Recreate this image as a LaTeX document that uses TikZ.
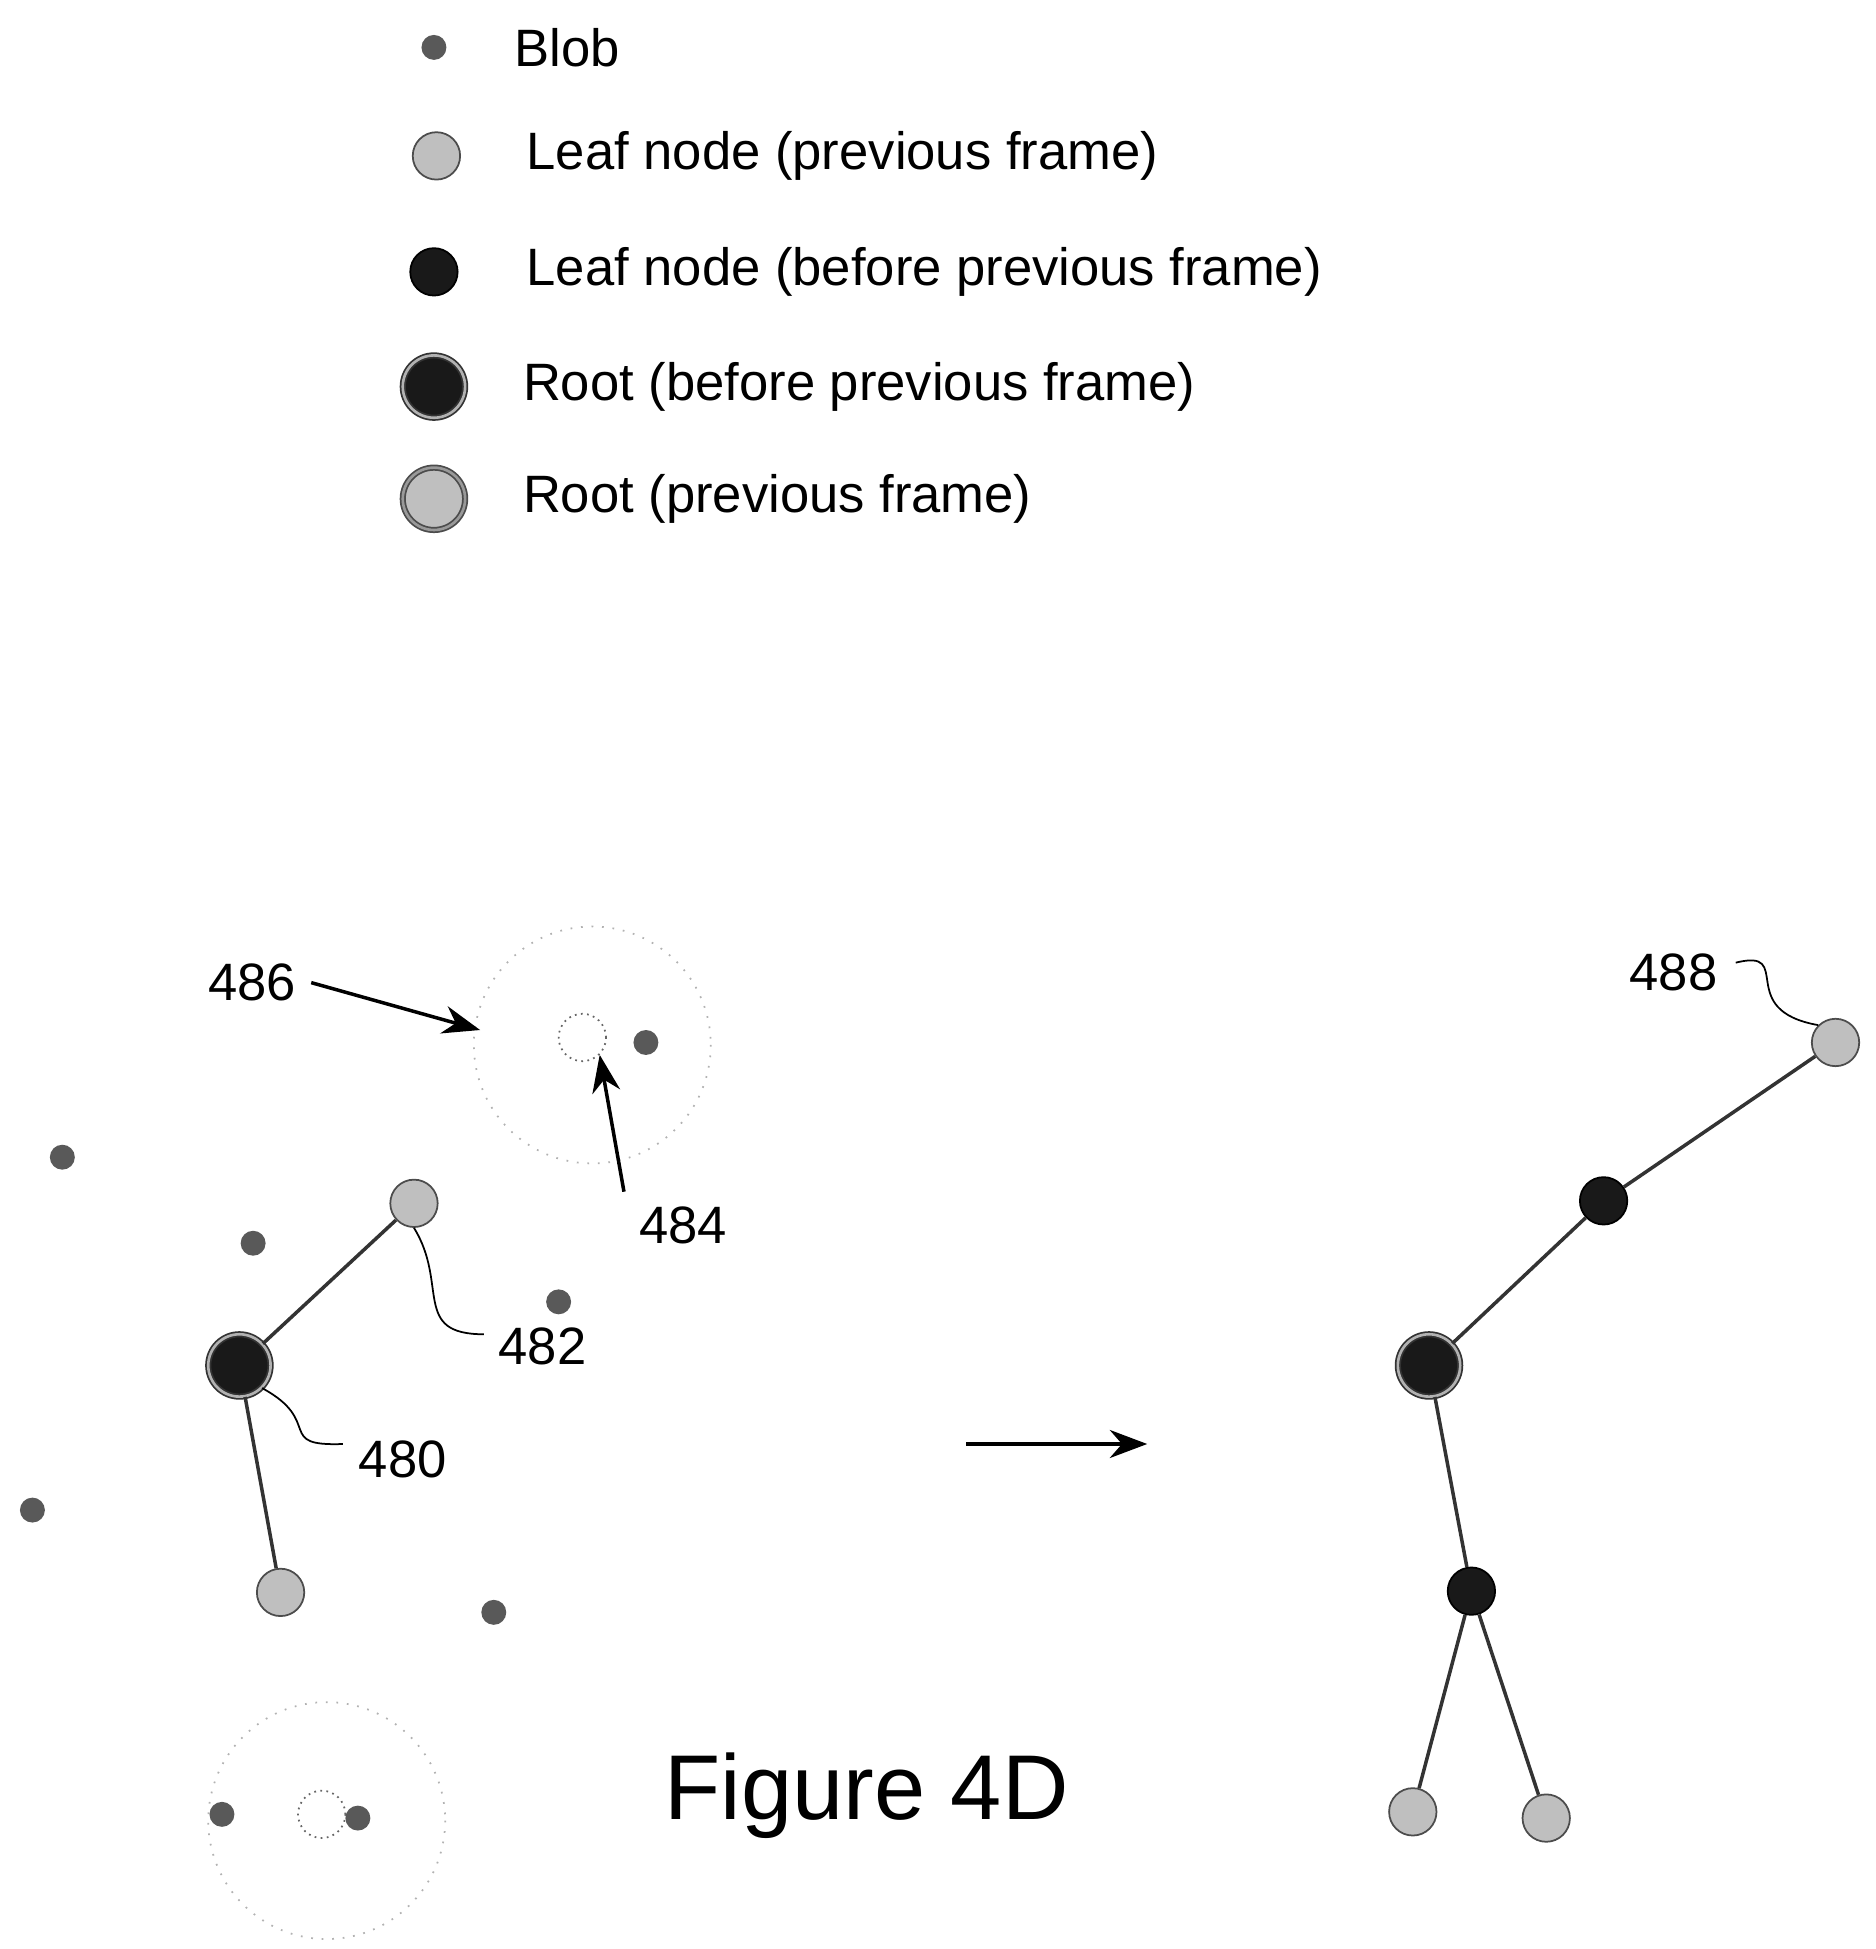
\documentclass[tikz,border=0pt]{standalone}
\usepackage{fontspec}
\setmainfont{Liberation Sans}
\usetikzlibrary{arrows.meta}
\tikzset{
	blob/.style={circle, fill=black!65, minimum size=0.2cm, inner sep=0pt},
	leafprev/.style={circle, draw=black!70, fill=black!25, minimum size=0.38cm, inner sep=0pt},
	leafold/.style={circle, draw=black, fill=black!90, minimum size=0.38cm, inner sep=0pt},
	rootold/.style={circle, draw=black!80, double=black!30, double distance=0.6pt, fill=black!90, minimum size=0.5cm, inner sep=0pt},
	rootprev/.style={circle, draw=black!70, double=black!40, double distance=0.6pt, fill=black!25, minimum size=0.5cm, inner sep=0pt},
	ghost/.style={circle, draw=black!60, densely dotted, minimum size=0.38cm, inner sep=0pt},
	reach/.style={draw=black!30, dotted},
	lbl/.style={font=\fontsize{12}{14}\selectfont},
	arr/.style={-{Stealth[length=3mm]}, thick},
	edge/.style={thick, black!80}
}
\begin{document}
\begin{tikzpicture}[y=-1cm]
	\useasboundingbox (0,0) rectangle (15.04,15.63);

% LEGENDE
	\node[blob] (lb1) at (3.48,0.38) {};
	\node[leafprev] (lb2) at (3.5,1.25) {};
	\node[leafold] (lb3) at (3.48,2.18) {};
	\node[rootold] (lb4) at (3.48,3.1) {};
	\node[rootprev] (lb5) at (3.48,4.0) {};
	\node[lbl, anchor=west] at (4.0,0.38) {Blob};
	\node[lbl, anchor=west] at (4.1,1.25) {Leaf node (previous frame)};
	\node[lbl, anchor=west] at (4.1,2.18) {Leaf node (before previous frame)};
	\node[lbl, anchor=west] at (4.07,3.1) {Root (before previous frame)};
	\node[lbl, anchor=west] at (4.07,4.0) {Root (previous frame)};

% GAUCHE
	\draw[reach] (4.75,8.38) circle (0.95);
	\draw[reach] (2.62,14.6) circle (0.95);
	\node[ghost] (g1) at (4.67,8.32) {};
	\node[ghost] (g2) at (2.58,14.55) {};
	\foreach \x/\y [count=\i] in {0.5/9.28, 2.03/9.97, 4.48/10.44, 0.26/12.11, 3.96/12.93, 5.18/8.36, 1.78/14.55, 2.87/14.58}
		\node[blob] (b\i) at (\x,\y) {};

	\node[rootold] (r1) at (1.92,10.95) {};
	\node[leafprev] (a1) at (3.32,9.65) {};
	\node[leafprev] (a2) at (2.25,12.77) {};
	\draw[edge] (r1) -- (a1);
	\draw[edge] (r1) -- (a2);

	\node[lbl] (t486) at (2.02,7.88) {486};
	\node[lbl] (t484) at (5.48,9.83) {484};
	\node[lbl] (t482) at (4.35,10.8) {482};
	\node[lbl] (t480) at (3.23,11.7) {480};
	\draw[arr] (t486.east) -- (3.85,8.26);
	\draw[arr] (t484.north west) -- (g1.south east);
	\draw (a1.south) .. controls (3.6,10.3) and (3.3,10.7) .. (3.88,10.7);
	\draw (r1.south east) .. controls (2.6,11.4) and (2.2,11.6) .. (2.75,11.58);

	\draw[arr] (7.75,11.58) -- (9.2,11.58);
	\node[font=\fontsize{21}{24}\selectfont] (fig) at (6.95,14.4) {Figure 4D};

% DROITE
	\node[rootold] (r2) at (11.46,10.95) {};
	\node[leafold] (c1) at (12.86,9.63) {};
	\node[leafprev] (c2) at (14.72,8.36) {};
	\node[leafold] (c3) at (11.8,12.76) {};
	\node[leafprev] (c4) at (11.33,14.53) {};
	\node[leafprev] (c5) at (12.4,14.58) {};
	\draw[edge] (r2) -- (c1) -- (c2);
	\draw[edge] (r2) -- (c3) -- (c4);
	\draw[edge] (c3) -- (c5);
	\node[lbl] (t488) at (13.42,7.8) {488};
	\draw (13.92,7.72) .. controls (14.4,7.6) and (13.9,8.1) .. (c2.north west);
\end{tikzpicture}
\end{document}
